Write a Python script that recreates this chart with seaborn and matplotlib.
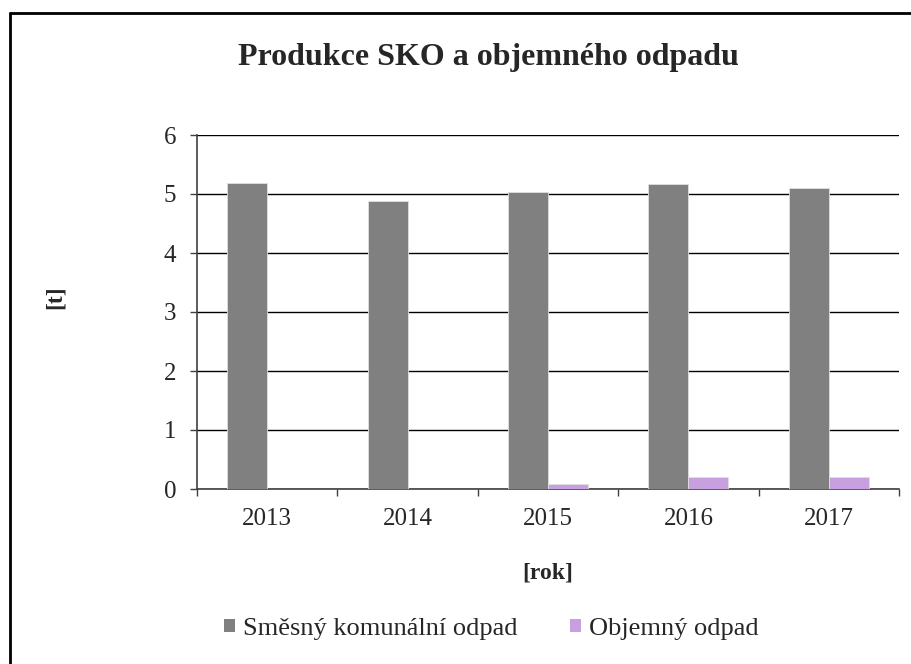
import matplotlib
matplotlib.use("Agg")
import matplotlib.pyplot as plt
import seaborn as sns
import pandas as pd
from matplotlib.lines import Line2D
from matplotlib.patches import Patch

years = ["2013", "2014", "2015", "2016", "2017"]
sko = [5.19, 4.88, 5.04, 5.17, 5.10]
objemny = [0.0, 0.0, 0.08, 0.21, 0.21]
series_names = ["Směsný komunální odpad", "Objemný odpad"]
colors = ["#808080", "#C8A0E0"]

df = pd.DataFrame({
    "rok": years * 2,
    "hodnota": sko + objemny,
    "serie": [series_names[0]] * len(years) + [series_names[1]] * len(years),
})

sns.set_theme(style="white")
plt.rcParams["font.family"] = ["Liberation Serif", "DejaVu Serif"]

W, H = 911, 664
fig = plt.figure(figsize=(W / 100, H / 100), dpi=100)
ax = fig.add_axes([197 / W, 1 - 489 / H, (899 - 197) / W, (489 - 135) / H])

sns.barplot(data=df, x="rok", y="hodnota", hue="serie", palette=colors,
            width=0.571, gap=0, ax=ax, legend=False, saturation=1,
            edgecolor="#e0e0e0", linewidth=0.6, zorder=3)

ax.set_ylim(0, 6)
ax.set_xlim(-0.5, len(years) - 0.5)
ax.set_yticks(range(0, 7))
ax.yaxis.grid(True, color="#000000", linewidth=1.0, zorder=0)
ax.set_axisbelow(True)
for s in ["top", "right"]:
    ax.spines[s].set_visible(False)
for s in ["left", "bottom"]:
    ax.spines[s].set_color("#404040")
    ax.spines[s].set_linewidth(1.2)

ax.tick_params(axis="y", which="major", left=True, length=5, width=1, color="#404040",
               labelsize=18, pad=10)
ax.tick_params(axis="x", which="major", bottom=False, length=0, labelsize=18, pad=14)
ax.set_xticks([i + 0.5 for i in range(-1, len(years))], minor=True)
ax.tick_params(axis="x", which="minor", bottom=True, length=5, width=1, color="#404040")

ax.set_xlabel("[rok]", fontsize=17, fontweight="bold")
ax.set_ylabel("[t]", fontsize=17, fontweight="bold")
ax.xaxis.set_label_coords(0.5, (489 - 562) / 354)
ax.yaxis.set_label_coords((66 - 197) / 702, (489 - 297) / 354)

fig.text(488 / W, 1 - 57 / H, "Produkce SKO a objemného odpadu", ha="center",
         va="center", fontsize=23, fontweight="bold")

handles = [Patch(facecolor=c, edgecolor="none") for c in colors]
fig.legend(handles, series_names, loc="center", bbox_to_anchor=(491 / W, 1 - 629 / H),
           ncol=2, frameon=False, fontsize=19, handlelength=0.42, handleheight=0.42,
           handletextpad=0.3, columnspacing=2.0)

# outer frame
fig.add_artist(Line2D([10 / W, 10 / W], [0, 1 - 13 / H], color="black", linewidth=2,
                      transform=fig.transFigure))
fig.add_artist(Line2D([10 / W, 1], [1 - 13 / H, 1 - 13 / H], color="black", linewidth=2,
                      transform=fig.transFigure))

fig.savefig("out.png", dpi=100)
